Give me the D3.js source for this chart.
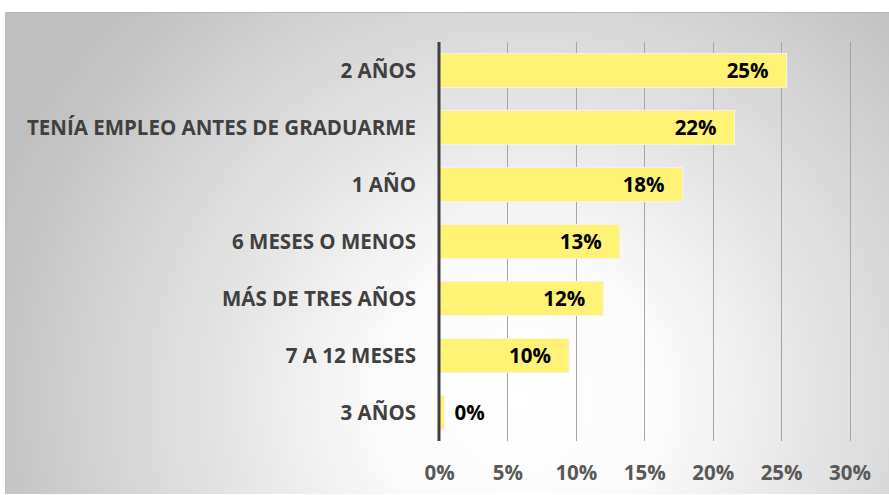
<!DOCTYPE html>
<html>
<head>
    <meta charset="utf-8" />
    <title></title>
    <script src="https://d3js.org/d3.v7.min.js"></script>
    <style>
        body { margin: 0; background: #fff; }
        .cat { font-family: "Open Sans", sans-serif; font-weight: bold; font-size: 20.5px; fill: #404040; }
        .val { font-family: "Open Sans", sans-serif; font-weight: bold; font-size: 20.5px; fill: #000; }
        .tick text { font-family: "Open Sans", sans-serif; font-weight: bold; font-size: 20.5px; fill: #595959; }
    </style>
</head>
<body>
<div id="chart"></div>
<script type="text/javascript">
    var categories = ["2 AÑOS", "TENÍA EMPLEO ANTES DE GRADUARME", "1 AÑO", "6 MESES O MENOS", "MÁS DE TRES AÑOS", "7 A 12 MESES", "3 AÑOS"];
    var values = [25.4, 21.6, 17.8, 13.2, 12.0, 9.5, 0.4];
    var valueLabels = ["25%", "22%", "18%", "13%", "12%", "10%", "0%"];
    var tickValues = [0, 5, 10, 15, 20, 25, 30];

    var W = 889, H = 495;
    var svg = d3.select("#chart").append("svg")
        .attr("width", W)
        .attr("height", H);

    var defs = svg.append("defs");
    var grad = defs.append("radialGradient")
        .attr("id", "bg")
        .attr("gradientUnits", "userSpaceOnUse")
        .attr("cx", 520).attr("cy", 400).attr("r", 560);
    grad.append("stop").attr("offset", "0%").attr("stop-color", "#ffffff");
    grad.append("stop").attr("offset", "25%").attr("stop-color", "#fbfbfb");
    grad.append("stop").attr("offset", "100%").attr("stop-color", "#bfbfbf");

    svg.append("rect")
        .attr("x", 5).attr("y", 12)
        .attr("width", W - 5).attr("height", 482)
        .attr("fill", "url(#bg)");
    svg.append("line")
        .attr("x1", 5).attr("x2", W)
        .attr("y1", 12.5).attr("y2", 12.5)
        .attr("stroke", "#b5b5b5").attr("stroke-width", 1);

    var x = d3.scaleLinear().domain([0, 30]).range([439, 849.5]);
    var y = d3.scaleBand().domain(categories).range([42, 441]).paddingInner(0.4).paddingOuter(0.2);

    // gridlines
    svg.selectAll(".grid")
        .data(tickValues.slice(1))
        .enter().append("line")
        .attr("class", "grid")
        .attr("x1", function(d) { return Math.round(x(d)) + 0.5; })
        .attr("x2", function(d) { return Math.round(x(d)) + 0.5; })
        .attr("y1", 42).attr("y2", 441)
        .attr("stroke", "#a6a6a6").attr("stroke-width", 1);

    // bars
    svg.selectAll(".bar")
        .data(values)
        .enter().append("rect")
        .attr("class", "bar")
        .attr("x", x(0))
        .attr("y", function(d, i) { return y(categories[i]); })
        .attr("width", function(d) { return x(d) - x(0); })
        .attr("height", y.bandwidth())
        .attr("fill", "#fff275")
        .attr("stroke", "#f2f2f2").attr("stroke-width", 1);

    // axis line
    svg.append("line")
        .attr("x1", x(0)).attr("x2", x(0))
        .attr("y1", 42).attr("y2", 441)
        .attr("stroke", "#404040").attr("stroke-width", 3);

    // x axis labels
    var xAxis = d3.axisBottom(x)
        .tickValues(tickValues)
        .tickSize(0)
        .tickPadding(0)
        .tickFormat(function(d) { return d + "%"; });
    var gx = svg.append("g")
        .attr("transform", "translate(0,465)")
        .call(xAxis);
    gx.select(".domain").remove();

    // category labels
    svg.selectAll(".cat")
        .data(categories)
        .enter().append("text")
        .attr("class", "cat")
        .attr("x", 416)
        .attr("y", function(d) { return y(d) + y.bandwidth() / 2; })
        .attr("dy", "0.38em")
        .attr("text-anchor", "end")
        .text(function(d) { return d; });

    // value labels
    svg.selectAll(".val")
        .data(values)
        .enter().append("text")
        .attr("class", "val")
        .attr("x", function(d) { return d < 2 ? x(d) + 10 : x(d) - 18; })
        .attr("y", function(d, i) { return y(categories[i]) + y.bandwidth() / 2; })
        .attr("dy", "0.38em")
        .attr("text-anchor", function(d) { return d < 2 ? "start" : "end"; })
        .text(function(d, i) { return valueLabels[i]; });
</script>
</body>
</html>
